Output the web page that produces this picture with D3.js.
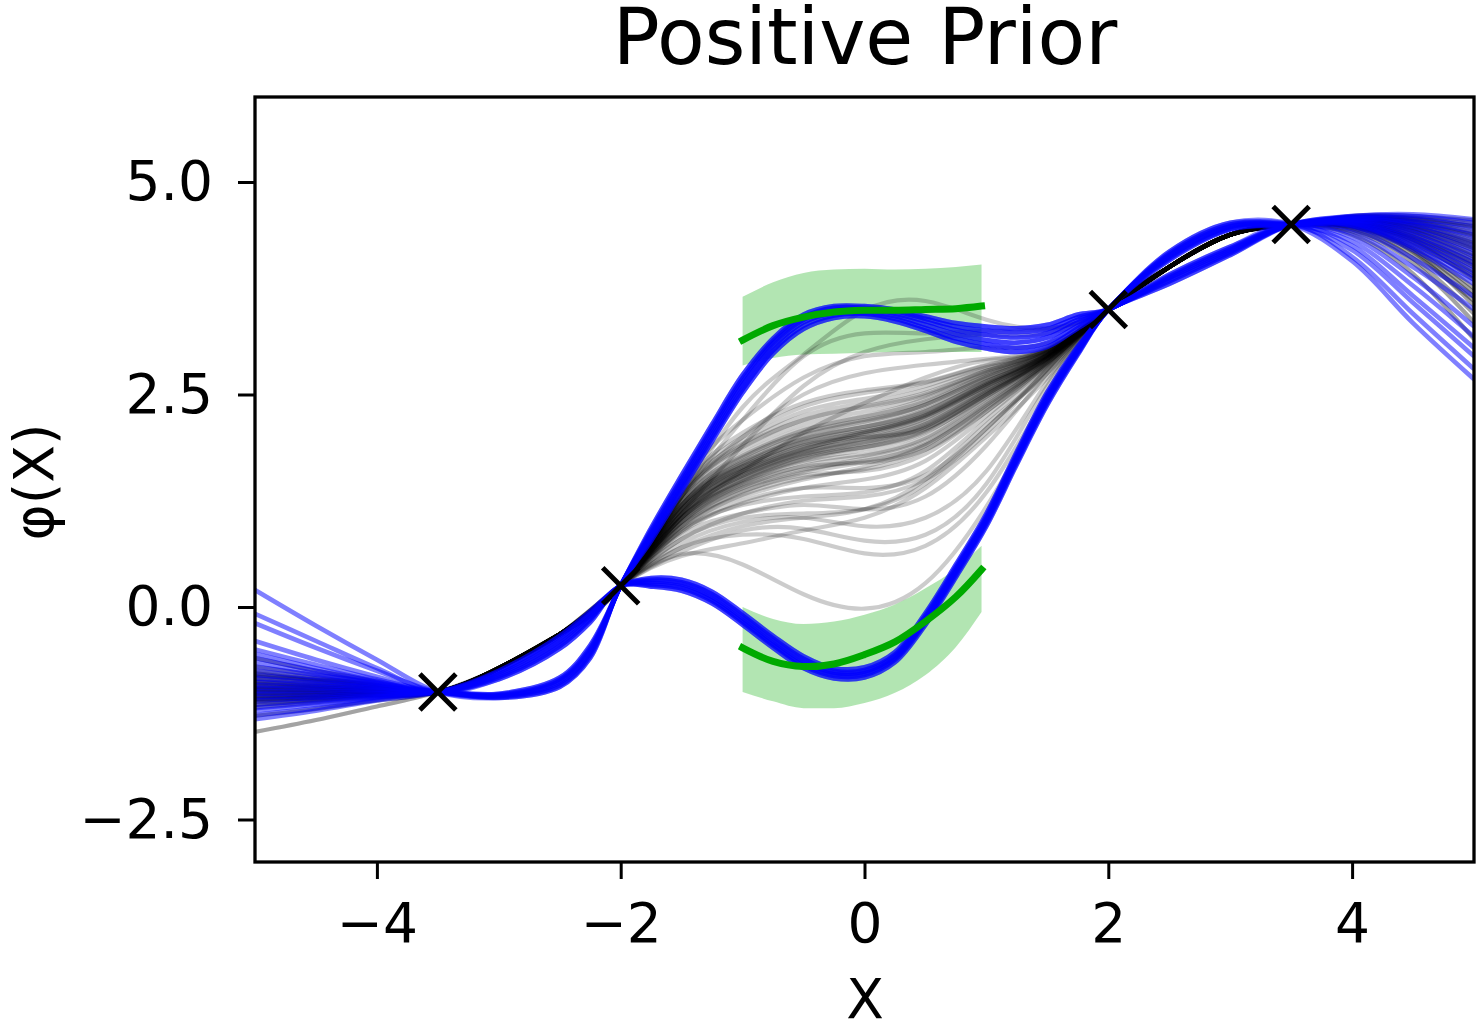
<!DOCTYPE html>
<html>
<head>
<meta charset="utf-8">
<script src="https://cdn.jsdelivr.net/npm/d3@7"></script>
<style>
  body { margin: 0; background: #fff; }
  text { font-family: "DejaVu Sans", sans-serif; fill: #000; }
</style>
</head>
<body>
<svg id="chart" width="1483" height="1027"></svg>
<script>
// ---- data ----

var xTicks = [-4, -2, 0, 2, 4];
var yTicks = [-2.5, 0, 2.5, 5];

// observed points (black crosses)
var markX = [-3.5, -2, 2, 3.5];
var markY = [-1, 0.25, 3.5, 4.5];

// gray samples, on a 0.5 grid
var grayX = [-5, -4.5, -4, -3.5, -3, -2.5, -2, -1.5, -1, -0.5, 0, 0.5, 1, 1.5, 2, 2.5, 3, 3.5, 4, 4.5, 5];
var grayPinnedLeft = [-1, -0.72, -0.32, 0.25];      // x -3.5 .. -2
var grayPinnedRight = [3.5, 4.0, 4.38, 4.5];        // x 2 .. 3.5
// x -1.5, -1, -0.5, 0, 0.5, 1, 1.5
var grayMid = [
  [0.62, 0.50, 0.15, -0.02, 0.28, 1.18, 2.42],
  [0.70, 0.85, 0.80, 0.63, 0.72, 1.35, 2.50],
  [0.65, 0.90, 0.92, 0.78, 0.85, 1.45, 2.60],
  [0.75, 1.00, 1.05, 0.95, 1.05, 1.60, 2.65],
  [0.60, 0.75, 0.90, 1.05, 1.40, 2.00, 2.70],
  [0.85, 1.10, 1.20, 1.15, 1.30, 1.90, 2.75],
  [0.90, 1.25, 1.40, 1.40, 1.55, 2.10, 2.80],
  [0.95, 1.35, 1.55, 1.60, 1.80, 2.30, 2.85],
  [1.00, 1.45, 1.70, 1.80, 2.00, 2.45, 2.90],
  [1.05, 1.50, 1.75, 1.90, 2.10, 2.50, 2.92],
  [1.10, 1.60, 1.85, 2.00, 2.20, 2.58, 2.95],
  [1.10, 1.55, 1.80, 1.95, 2.15, 2.55, 2.93],
  [1.15, 1.65, 1.95, 2.10, 2.30, 2.65, 2.97],
  [1.20, 1.70, 2.00, 2.15, 2.35, 2.68, 2.98],
  [1.20, 1.75, 2.05, 2.20, 2.40, 2.72, 3.00],
  [1.25, 1.80, 2.10, 2.25, 2.45, 2.75, 3.00],
  [1.30, 1.90, 2.20, 2.35, 2.50, 2.78, 3.02],
  [1.00, 1.40, 1.60, 1.75, 1.95, 2.40, 2.88],
  [1.15, 1.60, 1.85, 2.05, 2.25, 2.60, 2.96],
  [1.35, 1.95, 2.30, 2.45, 2.60, 2.82, 3.03],
  [1.40, 2.05, 2.40, 2.55, 2.65, 2.85, 3.04],
  [0.90, 1.20, 1.30, 1.35, 1.60, 2.20, 2.82],
  [0.80, 1.05, 1.10, 1.15, 1.45, 2.10, 2.78],
  [1.30, 2.00, 2.50, 2.75, 2.85, 2.92, 3.05],
  [1.45, 2.20, 2.70, 2.95, 3.00, 3.05, 3.10],
  [1.30, 2.20, 2.95, 3.22, 3.22, 3.25, 3.27],
  [1.30, 2.35, 2.97, 3.49, 3.60, 3.38, 3.28],
  [1.10, 1.90, 2.60, 3.00, 3.15, 3.20, 3.22],
  [1.05, 1.60, 2.05, 2.40, 2.70, 2.90, 3.02],
  [0.95, 1.30, 1.50, 1.65, 1.90, 2.35, 2.87],
  [1.05, 1.45, 1.65, 1.70, 1.85, 2.30, 2.86],
  [0.80, 1.10, 1.25, 1.30, 1.50, 2.05, 2.80],
  [1.20, 1.65, 1.90, 2.00, 2.10, 2.50, 2.93],
  [0.70, 0.95, 1.05, 1.15, 1.50, 2.15, 2.75],
  [1.05, 1.50, 1.78, 1.92, 2.12, 2.52, 2.93],
  [1.12, 1.58, 1.86, 2.02, 2.22, 2.60, 2.95],
  [1.18, 1.68, 1.97, 2.12, 2.32, 2.66, 2.97],
  [1.00, 1.42, 1.66, 1.78, 1.98, 2.43, 2.90],
  [0.98, 1.40, 1.62, 1.72, 1.92, 2.38, 2.88],
  [1.08, 1.55, 1.82, 1.98, 2.18, 2.56, 2.94],
  [1.22, 1.72, 2.02, 2.18, 2.38, 2.70, 2.99],
  [1.15, 1.62, 1.90, 2.06, 2.26, 2.62, 2.96],
  [1.28, 1.85, 2.15, 2.30, 2.48, 2.76, 3.01],
  [1.02, 1.47, 1.72, 1.85, 2.05, 2.48, 2.91],
  [0.92, 1.32, 1.52, 1.62, 1.85, 2.33, 2.87],
  [1.10, 1.56, 1.83, 1.97, 2.15, 2.54, 2.94],
  [1.17, 1.66, 1.94, 2.08, 2.27, 2.63, 2.97],
  [1.25, 1.78, 2.08, 2.24, 2.42, 2.73, 3.00],
  [1.32, 1.92, 2.25, 2.40, 2.56, 2.80, 3.02],
  [1.06, 1.52, 1.77, 1.88, 2.06, 2.47, 2.92],
  [1.13, 1.60, 1.88, 2.04, 2.24, 2.60, 2.96],
  [0.96, 1.36, 1.58, 1.70, 1.90, 2.37, 2.88],
  [1.20, 1.70, 1.98, 2.12, 2.30, 2.65, 2.97],
  [1.09, 1.54, 1.80, 1.94, 2.13, 2.53, 2.93],
  [1.38, 2.00, 2.36, 2.52, 2.64, 2.84, 3.03],
  [1.24, 1.76, 2.05, 2.20, 2.38, 2.70, 2.99],
  [1.04, 1.48, 1.74, 1.88, 2.08, 2.50, 2.92],
  [0.88, 1.22, 1.40, 1.50, 1.72, 2.25, 2.84],
  [1.16, 1.64, 1.92, 2.06, 2.25, 2.62, 2.96],
  [1.30, 1.88, 2.20, 2.36, 2.52, 2.78, 3.02]
];
// x -5, -4.5, -4
var grayLeftTail = [
  [-0.60, -0.75, -0.88], [-0.70, -0.80, -0.90], [-0.75, -0.84, -0.92], [-0.80, -0.86, -0.93],
  [-0.84, -0.89, -0.94], [-0.87, -0.91, -0.95], [-0.90, -0.93, -0.96], [-0.92, -0.94, -0.97],
  [-0.95, -0.96, -0.98], [-0.97, -0.98, -0.99], [-1.00, -1.00, -1.00], [-1.02, -1.02, -1.01],
  [-1.04, -1.03, -1.02], [-1.06, -1.05, -1.02], [-1.08, -1.06, -1.03], [-1.10, -1.07, -1.04],
  [-1.12, -1.09, -1.04], [-1.15, -1.10, -1.05], [-1.18, -1.12, -1.06], [-1.28, -1.20, -1.10],
  [-1.47, -1.33, -1.17], [-0.88, -0.92, -0.95], [-0.93, -0.95, -0.97], [-0.98, -0.99, -0.99],
  [-1.01, -1.01, -1.00], [-1.05, -1.04, -1.02], [-0.82, -0.87, -0.93], [-0.96, -0.97, -0.98],
  [-1.09, -1.07, -1.03], [-0.78, -0.85, -0.92]
];
// x 4, 4.5, 5
var grayRightTail = [
  [4.60, 4.60, 4.55], [4.59, 4.58, 4.50], [4.58, 4.56, 4.45], [4.58, 4.54, 4.40],
  [4.57, 4.52, 4.35], [4.56, 4.50, 4.30], [4.56, 4.48, 4.25], [4.55, 4.45, 4.20],
  [4.54, 4.42, 4.12], [4.53, 4.38, 4.05], [4.52, 4.35, 4.00], [4.51, 4.32, 3.92],
  [4.50, 4.30, 3.85], [4.49, 4.25, 3.75], [4.48, 4.20, 3.65], [4.47, 4.18, 3.55],
  [4.44, 4.10, 3.45], [4.42, 4.05, 3.35], [4.38, 3.92, 3.15], [4.57, 4.53, 4.38],
  [4.55, 4.46, 4.22], [4.53, 4.40, 4.08], [4.52, 4.36, 4.02], [4.50, 4.28, 3.88],
  [4.59, 4.57, 4.48], [4.54, 4.43, 4.15], [4.51, 4.33, 3.95], [4.48, 4.22, 3.70],
  [4.56, 4.49, 4.28], [4.46, 4.15, 3.60]
];

// blue samples: two families through the middle
var blueCoreX = [-3.5, -3, -2.5, -2.25, -2, -1.75, -1.5, -1.25, -1, -0.75, -0.5, -0.25, 0, 0.25, 0.5, 0.75, 1, 1.25, 1.5, 1.75, 2, 2.5, 3, 3.5];
var blueUpper = [
  [-1, -1.07, -0.94, -0.60, 0.25, 0.78, 1.36, 1.95, 2.52, 2.98, 3.27, 3.40, 3.42, 3.36, 3.25, 3.12, 3.04, 3.00, 3.06, 3.28, 3.5, 3.80, 4.14, 4.5],
  [-1, -1.06, -0.92, -0.57, 0.25, 0.81, 1.40, 1.99, 2.56, 3.02, 3.31, 3.43, 3.45, 3.39, 3.28, 3.16, 3.09, 3.05, 3.11, 3.31, 3.5, 3.83, 4.16, 4.5],
  [-1, -1.05, -0.89, -0.54, 0.25, 0.84, 1.44, 2.03, 2.61, 3.06, 3.35, 3.46, 3.47, 3.42, 3.32, 3.21, 3.14, 3.11, 3.17, 3.35, 3.5, 3.85, 4.18, 4.5],
  [-1, -1.04, -0.87, -0.51, 0.25, 0.87, 1.47, 2.07, 2.65, 3.10, 3.38, 3.49, 3.50, 3.45, 3.36, 3.26, 3.20, 3.17, 3.22, 3.38, 3.5, 3.87, 4.20, 4.5],
  [-1, -1.03, -0.85, -0.48, 0.25, 0.90, 1.51, 2.11, 2.69, 3.13, 3.41, 3.52, 3.52, 3.48, 3.39, 3.30, 3.25, 3.23, 3.27, 3.41, 3.5, 3.89, 4.22, 4.5],
  [-1, -1.02, -0.83, -0.45, 0.25, 0.93, 1.55, 2.15, 2.73, 3.16, 3.44, 3.54, 3.54, 3.50, 3.42, 3.34, 3.30, 3.28, 3.32, 3.44, 3.5, 3.91, 4.24, 4.5]
];
var blueLower = [
  [-1, -0.85, -0.49, -0.18, 0.25, 0.24, 0.19, 0.04, -0.21, -0.48, -0.72, -0.84, -0.83, -0.65, -0.21, 0.35, 0.95, 1.68, 2.38, 2.97, 3.5, 4.08, 4.44, 4.5],
  [-1, -0.83, -0.46, -0.15, 0.25, 0.26, 0.22, 0.07, -0.18, -0.45, -0.69, -0.81, -0.80, -0.62, -0.18, 0.38, 0.98, 1.71, 2.41, 2.99, 3.5, 4.10, 4.45, 4.5],
  [-1, -0.81, -0.43, -0.13, 0.25, 0.28, 0.24, 0.09, -0.16, -0.43, -0.67, -0.79, -0.78, -0.60, -0.16, 0.41, 1.01, 1.74, 2.44, 3.01, 3.5, 4.12, 4.47, 4.5],
  [-1, -0.79, -0.40, -0.10, 0.25, 0.30, 0.27, 0.12, -0.13, -0.40, -0.64, -0.77, -0.76, -0.58, -0.13, 0.44, 1.04, 1.77, 2.47, 3.03, 3.5, 4.14, 4.48, 4.5],
  [-1, -0.77, -0.37, -0.08, 0.25, 0.32, 0.29, 0.15, -0.10, -0.37, -0.61, -0.75, -0.74, -0.56, -0.10, 0.47, 1.07, 1.80, 2.50, 3.05, 3.5, 4.16, 4.50, 4.5],
  [-1, -0.75, -0.34, -0.05, 0.25, 0.34, 0.32, 0.18, -0.07, -0.34, -0.58, -0.72, -0.71, -0.53, -0.07, 0.50, 1.10, 1.83, 2.53, 3.07, 3.5, 4.18, 4.52, 4.5]
];
var blueLeftX = [-5, -4.5, -4];
var blueLeftTail = [
  [0.20, -0.22, -0.62], [-0.08, -0.40, -0.72], [-0.19, -0.48, -0.75], [-0.40, -0.62, -0.82],
  [-0.50, -0.68, -0.85], [-0.55, -0.72, -0.87], [-0.60, -0.75, -0.88], [-0.65, -0.78, -0.89],
  [-0.70, -0.80, -0.90], [-0.75, -0.83, -0.92], [-0.80, -0.86, -0.93], [-0.84, -0.89, -0.94],
  [-0.88, -0.91, -0.95], [-0.92, -0.94, -0.97], [-0.95, -0.96, -0.98], [-0.99, -0.99, -0.99],
  [-1.02, -1.02, -1.01], [-1.06, -1.05, -1.02], [-1.10, -1.07, -1.04], [-1.15, -1.10, -1.05],
  [-1.19, -1.13, -1.06], [-1.22, -1.15, -1.07], [-1.27, -1.19, -1.09], [-1.32, -1.22, -1.10]
];
var blueRightX = [4, 4.5, 5];
var blueRightTail = [
  [4.60, 4.62, 4.56], [4.60, 4.60, 4.52], [4.59, 4.57, 4.47], [4.58, 4.54, 4.42],
  [4.58, 4.52, 4.37], [4.57, 4.50, 4.32], [4.56, 4.47, 4.26], [4.55, 4.44, 4.20],
  [4.55, 4.41, 4.15], [4.54, 4.38, 4.10], [4.53, 4.35, 4.05], [4.52, 4.32, 4.00],
  [4.51, 4.29, 3.95], [4.50, 4.26, 3.90], [4.49, 4.23, 3.85], [4.48, 4.20, 3.80],
  [4.45, 4.10, 3.65], [4.40, 4.00, 3.50], [4.35, 3.88, 3.30], [4.30, 3.78, 3.18],
  [4.25, 3.66, 3.05], [4.20, 3.58, 2.95], [4.12, 3.45, 2.80], [4.07, 3.34, 2.68]
];

// green means and shaded bands on [-1, 1]
var greenX = [-1, -0.75, -0.5, -0.25, 0, 0.25, 0.5, 0.75, 0.96];
var greenUpper = [3.14, 3.31, 3.41, 3.47, 3.49, 3.49, 3.50, 3.51, 3.54];
var greenLower = [-0.48, -0.64, -0.70, -0.67, -0.56, -0.41, -0.17, 0.12, 0.44];
var bandUpperTop = [3.65, 3.82, 3.93, 3.97, 3.98, 3.97, 3.98, 4.00, 4.03];
var bandUpperBottom = [2.84, 2.93, 2.97, 2.98, 2.99, 3.00, 3.00, 3.00, 3.00];
var bandLowerTop = [0.00, -0.14, -0.20, -0.17, -0.09, 0.03, 0.22, 0.45, 0.72];
var bandLowerBottom = [-1.00, -1.11, -1.19, -1.19, -1.13, -1.01, -0.80, -0.47, -0.06];

// ---- drawing ----

var svg = d3.select("#chart");
var x = d3.scaleLinear().domain([-5, 5]).range([255, 1474]);
var y = d3.scaleLinear().domain([-3, 6]).range([862, 97]);

svg.append("defs").append("clipPath").attr("id", "plot-clip")
  .append("rect")
  .attr("x", 255).attr("y", 97).attr("width", 1219).attr("height", 765);

var plot = svg.append("g").attr("clip-path", "url(#plot-clip)");

function zip(xs, ys) {
  return xs.map(function (v, i) { return [v, ys[i]]; });
}

var naturalLine = d3.line()
  .x(function (d) { return x(d[0]); })
  .y(function (d) { return y(d[1]); })
  .curve(d3.curveNatural);

var smoothLine = d3.line()
  .x(function (d) { return x(d[0]); })
  .y(function (d) { return y(d[1]); })
  .curve(d3.curveCatmullRom.alpha(0.5));

var band = d3.area()
  .x(function (d) { return x(d[0]); })
  .y0(function (d) { return y(d[1]); })
  .y1(function (d) { return y(d[2]); })
  .curve(d3.curveMonotoneX);

// shaded bands
[[bandUpperBottom, bandUpperTop], [bandLowerBottom, bandLowerTop]].forEach(function (b) {
  plot.append("path")
    .datum(greenX.map(function (v, i) { return [v, b[0][i], b[1][i]]; }))
    .attr("d", band)
    .attr("fill", "#00aa00")
    .attr("fill-opacity", 0.3);
});

// gray samples
var grayLines = grayMid.map(function (mid, i) {
  var ys = grayLeftTail[i % grayLeftTail.length]
    .concat(grayPinnedLeft, mid, grayPinnedRight, grayRightTail[i % grayRightTail.length]);
  return zip(grayX, ys);
});

plot.selectAll("path.gray")
  .data(grayLines)
  .enter().append("path")
  .attr("class", "gray")
  .attr("d", naturalLine)
  .attr("fill", "none")
  .attr("stroke", "#000")
  .attr("stroke-opacity", 0.2)
  .attr("stroke-width", 4.2);

// blue samples
var blueX = blueLeftX.concat(blueCoreX, blueRightX);
var blueLines = blueLeftTail.map(function (left, i) {
  var family = (i % 2 === 0) ? blueUpper : blueLower;
  var core = family[Math.floor(i / 2) % family.length];
  return zip(blueX, left.concat(core, blueRightTail[i]));
});

plot.selectAll("path.blue")
  .data(blueLines)
  .enter().append("path")
  .attr("class", "blue")
  .attr("d", smoothLine)
  .attr("fill", "none")
  .attr("stroke", "#0000ff")
  .attr("stroke-opacity", 0.5)
  .attr("stroke-width", 4.6);

// green mean lines
[greenUpper, greenLower].forEach(function (g) {
  plot.append("path")
    .datum(zip(greenX, g))
    .attr("d", smoothLine)
    .attr("fill", "none")
    .attr("stroke", "#00aa00")
    .attr("stroke-width", 7)
    .attr("stroke-linecap", "square");
});

// crosses
plot.selectAll("path.mark")
  .data(zip(markX, markY))
  .enter().append("path")
  .attr("class", "mark")
  .attr("transform", function (d) { return "translate(" + x(d[0]) + "," + y(d[1]) + ")"; })
  .attr("d", "M-18,-18L18,18M-18,18L18,-18")
  .attr("stroke", "#000")
  .attr("stroke-width", 5);

// axes
var xAxis = svg.append("g")
  .attr("transform", "translate(0,862)")
  .call(d3.axisBottom(x).tickValues(xTicks).tickSize(17).tickPadding(24).tickFormat(d3.format("d")));
var yAxis = svg.append("g")
  .attr("transform", "translate(255,0)")
  .call(d3.axisLeft(y).tickValues(yTicks).tickSize(17).tickPadding(25).tickFormat(d3.format(".1f")));

[xAxis, yAxis].forEach(function (a) {
  a.select(".domain").remove();
  a.selectAll(".tick line").attr("stroke", "#000").attr("stroke-width", 3);
  a.selectAll(".tick text")
    .attr("fill", "#000")
    .style("font-family", "'DejaVu Sans', sans-serif")
    .style("font-size", "55px");
});

// frame
svg.append("rect")
  .attr("x", 255).attr("y", 97).attr("width", 1219).attr("height", 765)
  .attr("fill", "none")
  .attr("stroke", "#000")
  .attr("stroke-width", 3.3);

// labels
svg.append("text")
  .attr("x", 865).attr("y", 64)
  .attr("text-anchor", "middle")
  .style("font-size", "78px")
  .text("Positive Prior");

svg.append("text")
  .attr("x", 865).attr("y", 1018)
  .attr("text-anchor", "middle")
  .style("font-size", "55px")
  .text("X");

svg.append("text")
  .attr("transform", "translate(53,482) rotate(-90)")
  .attr("text-anchor", "middle")
  .style("font-size", "55px")
  .text("φ(X)");
</script>
</body>
</html>
